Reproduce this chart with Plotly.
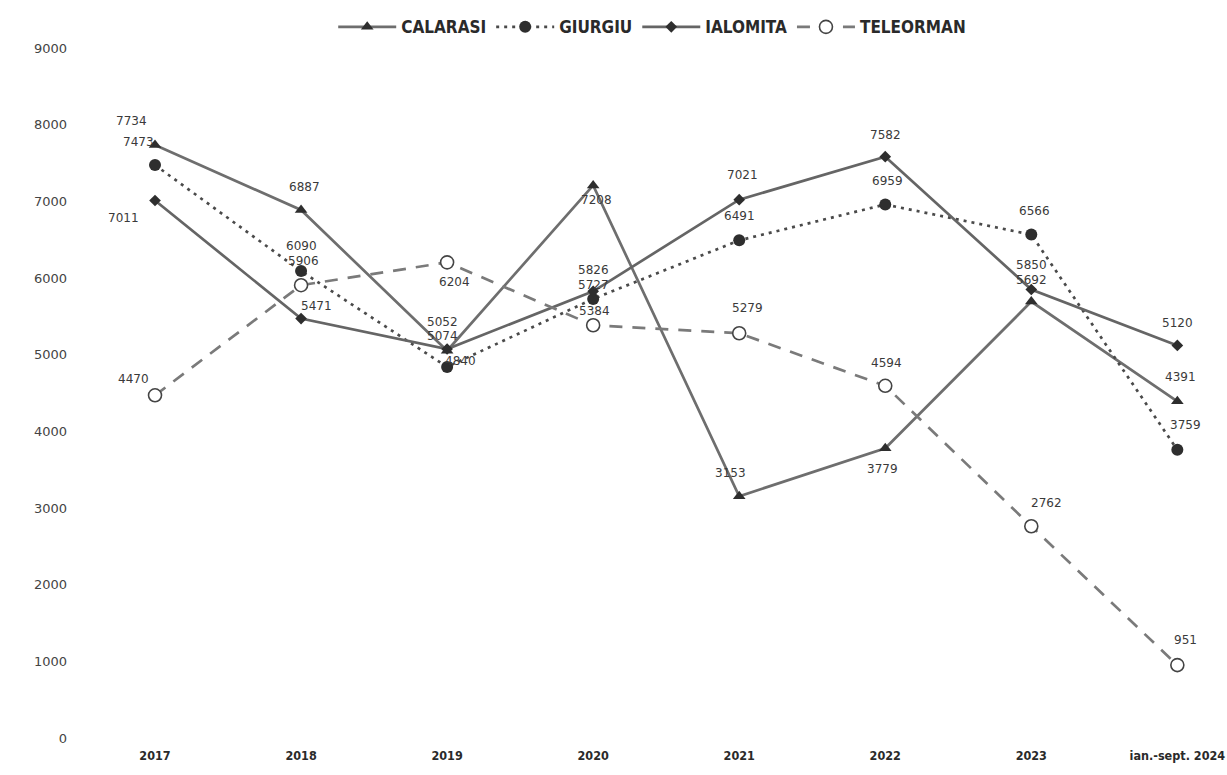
import plotly.graph_objects as go

# Categories (years)
years = ["2017", "2018", "2019", "2020", "2021", "2022", "2023", "ian.-sept. 2024"]

# Values per county
calarasi = [7734, 6887, 5052, 7208, 3153, 3779, 5692, 4391]
giurgiu = [7473, 6090, 4840, 5727, 6491, 6959, 6566, 3759]
ialomita = [7011, 5471, 5074, 5826, 7021, 7582, 5850, 5120]
teleorman = [4470, 5906, 6204, 5384, 5279, 4594, 2762, 951]

y_ticks = [0, 1000, 2000, 3000, 4000, 5000, 6000, 7000, 8000, 9000]

# Pixel offsets for the value labels (dx, dy; dy positive = up)
label_offsets = {
    "CALARASI": [(-24, 24), (3, 23), (-5, 29), (3, -15), (-9, 23), (-3, -21), (0, 22), (3, 24)],
    "GIURGIU": [(-17, 23), (0, 25), (13, 6), (0, 14), (0, 24), (2, 23), (3, 24), (8, 25)],
    "IALOMITA": [(-32, -18), (15, 13), (-5, 13), (0, 21), (3, 25), (0, 22), (0, 25), (0, 22)],
    "TELEORMAN": [(-22, 16), (2, 24), (7, -20), (1, 14), (8, 25), (1, 23), (15, 23), (8, 25)],
}

series = [
    dict(name="CALARASI", values=calarasi,
         line=dict(color="#6e6e6e", width=2.7, dash="solid"),
         marker=dict(symbol="triangle-up", size=11, color="#2e2e2e")),
    dict(name="GIURGIU", values=giurgiu,
         line=dict(color="#4a4a4a", width=2.7, dash="3px,5px"),
         marker=dict(symbol="circle", size=12, color="#2e2e2e")),
    dict(name="IALOMITA", values=ialomita,
         line=dict(color="#656565", width=2.7, dash="solid"),
         marker=dict(symbol="diamond", size=9, color="#2e2e2e")),
    dict(name="TELEORMAN", values=teleorman,
         line=dict(color="#7a7a7a", width=2.7, dash="13px,10px"),
         marker=dict(symbol="circle", size=13, color="white",
                     line=dict(color="#444444", width=1.6))),
]

fig = go.Figure()
annotations = []
for s in series:
    fig.add_trace(go.Scatter(
        x=years, y=s["values"], name=s["name"], mode="lines+markers",
        line=s["line"], marker=s["marker"],
    ))
    for i, v in enumerate(s["values"]):
        dx, dy = label_offsets[s["name"]][i]
        # category index as x so numeric-looking year names are not read as values
        annotations.append(dict(
            x=i, y=v, xref="x", yref="y", text=str(v), showarrow=False,
            xshift=dx, yshift=dy,
            font=dict(family="DejaVu Sans, sans-serif", size=12, color="#3a3a3a"),
        ))

fig.update_layout(
    width=1227, height=775,
    margin=dict(l=82, r=0, t=48, b=37, autoexpand=False),
    paper_bgcolor="white", plot_bgcolor="white",
    showlegend=True,
    legend=dict(
        orientation="h", x=0.498, xanchor="center", y=1.03, yanchor="middle",
        font=dict(family="Liberation Sans Narrow, DejaVu Sans Condensed, sans-serif",
                  size=17, color="#2a2a2a", weight="bold"),
        itemwidth=58, bgcolor="rgba(0,0,0,0)",
    ),
    annotations=annotations,
    xaxis=dict(
        type="category", range=[-0.5, 7.34], automargin=False,
        showgrid=False, zeroline=False, showline=False, ticks="",
        ticklabelstandoff=8,
        tickfont=dict(family="DejaVu Sans Condensed, DejaVu Sans, sans-serif",
                      size=12.5, color="#2a2a2a", weight="bold"),
    ),
    yaxis=dict(
        range=[0, 9000], tickvals=y_ticks, automargin=False,
        showgrid=False, zeroline=False, showline=False, ticks="",
        ticklabelstandoff=14,
        tickfont=dict(family="DejaVu Sans, sans-serif", size=13, color="#444444"),
    ),
)

fig.write_html("out.html")
